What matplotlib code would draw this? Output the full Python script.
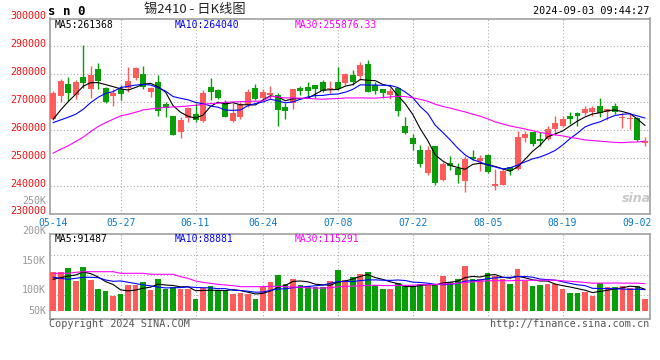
import numpy as np
import pandas as pd
import matplotlib
matplotlib.use("Agg")
import matplotlib.pyplot as plt
import matplotlib.transforms as mtransforms

# x axis dates shown under the candles (index of the trading day)
tick_pos = [0, 9, 19, 28, 38, 48, 58, 68, 78]
tick_labels = ["05-14", "05-27", "06-11", "06-24", "07-08", "07-22", "08-05", "08-19", "09-02"]

opens = [263930, 272380, 276550, 272620, 279170, 274760, 281790, 275000, 272380, 274640,
         275000, 278810, 280000, 273810, 277140, 269290, 265120, 259520, 264290, 265830,
         263450, 275600, 274400, 270000, 263450, 264640, 269050, 275000, 271670, 272740,
         272620, 268450, 269640, 275120, 275360, 276190, 277140, 274880, 277140, 277020,
         279760, 279520, 283690, 276190, 274760, 272740, 275000, 261550, 257380, 252980,
         244640, 254400, 242020, 248210, 246430, 241670, 250360, 248810, 251190, 240120,
         240480, 246790, 246070, 257380, 259520, 256790, 256900, 260480, 261670, 265120,
         266310, 266310, 266670, 268690, 266430, 268690, 264290, 263930, 264520, 255600]
highs = [274050, 278330, 278930, 277980, 290500, 282980, 283930, 275600, 274760, 276190,
         282500, 282740, 282980, 275600, 279760, 270000, 265120, 264880, 268450, 269640,
         274400, 278570, 274640, 270830, 269640, 270240, 274640, 276430, 274640, 275830,
         273210, 269640, 274640, 275950, 277380, 276190, 277980, 277620, 282500, 280360,
         281550, 284520, 285000, 277380, 274760, 275240, 275000, 264640, 258690, 254760,
         254400, 254400, 248450, 250830, 248210, 250600, 252980, 250950, 251430, 246190,
         246070, 246790, 259880, 259880, 259520, 259520, 261550, 265120, 265120, 266430,
         266670, 268690, 268810, 271430, 267620, 269880, 266070, 266070, 264880, 257500]
lows = [263700, 270000, 270360, 271190, 275000, 271430, 274760, 269640, 268810, 270830,
        273810, 277980, 274640, 272020, 265240, 264640, 258330, 257380, 262860, 263100,
        263100, 270830, 271070, 264640, 263100, 264050, 268450, 270830, 271190, 271070,
        261670, 264050, 267620, 272620, 272020, 271430, 273810, 273210, 274400, 276190,
        276190, 277980, 273810, 272860, 271670, 271070, 265240, 258690, 252740, 246790,
        244050, 240480, 241670, 245830, 241070, 237860, 249400, 245240, 244640, 238690,
        240480, 244050, 245830, 255710, 254170, 254170, 256550, 258330, 261310, 262260,
        261550, 265480, 265240, 264640, 263690, 265830, 260950, 260360, 256190, 254520]
closes = [273450, 277740, 273450, 277140, 277020, 279760, 277740, 270000, 273450, 273100,
          277620, 282380, 275600, 275240, 267020, 267860, 258330, 263690, 268100, 263690,
          273210, 273810, 271430, 264880, 266070, 269290, 273810, 271190, 273810, 273450,
          267260, 267020, 274640, 274170, 274170, 274640, 274170, 275240, 274760, 280120,
          277380, 283330, 273810, 274050, 273450, 274050, 266900, 258930, 255000, 247860,
          252980, 241070, 247980, 247260, 244050, 249760, 249760, 250000, 244880, 240830,
          245480, 245480, 257500, 258690, 255120, 256310, 260360, 262740, 264050, 264050,
          265240, 267620, 268100, 266310, 267620, 266670, 264640, 264520, 256550, 256310]
volumes = [163800, 163800, 180600, 126000, 184800, 130200, 92400, 84000, 64300, 72700,
           109200, 109200, 121800, 88200, 134400, 92400, 99100, 92400, 92400, 50400,
           96600, 105000, 88200, 88200, 71400, 75600, 71400, 50400, 100800, 121800,
           151200, 113400, 134400, 109200, 105000, 100800, 100800, 126000, 172200, 130200,
           142800, 155400, 163800, 109200, 92400, 92400, 117600, 105000, 105000, 113400,
           113400, 109200, 147000, 121800, 134400, 189000, 134400, 134400, 159600, 147000,
           134400, 113400, 176400, 126000, 105000, 109200, 113400, 113400, 92400, 75600,
           75600, 79800, 63000, 117600, 100800, 100800, 105000, 96600, 105000, 50400]

# moving averages on the first days depend on history before 05-14
ma5_start = [263930, 267260, 270240, 272860]
ma10_start = [262740, 263690, 264640, 265710, 267500, 269880, 271790, 273210, 273810]
ma30_start = [251790, 253210, 254400, 255950, 257500, 259520, 261310, 262740, 263930, 265120,
              265710, 266430, 267260, 267620, 267860, 268210, 268330, 268450, 268690, 268930,
              269290, 269520, 269640, 270000, 270120, 270240, 270360, 270360, 270480]
vma5_start = [133100, 140000, 147000, 151200]
vma10_start = [141500, 137300, 133100, 137300, 141500, 141500, 140000, 130200, 124700]
vma30_start = [158300, 158300, 158300, 162500, 165100, 165100, 165100, 165100, 165100, 158300,
               158300, 158300, 158300, 154100, 154100, 154100, 154100, 144200, 137200, 126000,
               120400, 116200, 112000, 109200, 106400, 102200, 102200, 102200, 102200]

price_ticks = list(range(230000, 300001, 10000))
vol_labels = ["250K", "200K", "150K", "100K", "50K"]


def moving(values, n, start):
    s = pd.Series(values, dtype=float).rolling(n).mean()
    s.iloc[:len(start)] = start
    return s.to_numpy()


UP, DOWN = "#ff5b5b", "#079e07"
GRID = "#aaaaaa"
BORDER = "#a0a0a0"
MONO = "DejaVu Sans Mono"
W, H = 660, 360

fig = plt.figure(figsize=(W / 100, H / 100), dpi=100)
ax = fig.add_axes([50 / W, 1 - 214 / H, 600 / W, (214 - 18.5) / H])
axv = fig.add_axes([50 / W, 1 - 318.5 / H, 600 / W, (318.5 - 233.5) / H])

x = np.arange(len(closes))
o, c = np.array(opens), np.array(closes)
colors = np.where(c >= o, UP, DOWN)

# candles
ax.vlines(x, lows, highs, colors=colors, lw=1, zorder=3)
ax.bar(x, np.maximum(np.abs(c - o), 360), bottom=np.minimum(o, c), width=0.8,
       color=colors, linewidth=0, zorder=3)
ax.plot(x, moving(closes, 5, ma5_start), color="black", lw=0.8, zorder=4)
ax.plot(x, moving(closes, 10, ma10_start), color="#0000ff", lw=0.8, zorder=4)
ax.plot(x, moving(closes, 30, ma30_start), color="#ff00ff", lw=0.8, zorder=4)

# volume
axv.bar(x, volumes, width=0.76, color=colors, linewidth=0, zorder=3)
axv.plot(x, moving(volumes, 5, vma5_start), color="black", lw=0.8, zorder=4)
axv.plot(x, moving(volumes, 10, vma10_start), color="#0000ff", lw=0.8, zorder=4)
axv.plot(x, moving(volumes, 30, vma30_start), color="#ff00ff", lw=0.8, zorder=4)

for a in (ax, axv):
    a.set_xlim(-0.43, 79.68)
    for sp in a.spines.values():
        sp.set_color(BORDER)
        sp.set_linewidth(1.2)
    for t in tick_pos[1:-1]:
        a.axvline(t, color=GRID, lw=0.8, ls=(0, (1, 2)), zorder=1)
    a.tick_params(length=0)

ax.set_ylim(price_ticks[0], price_ticks[-1])
ax.set_yticks(price_ticks)
ax.tick_params(axis="y", labelleft=False)
ax.grid(axis="y", color=GRID, lw=0.8, ls=(0, (1, 2)), zorder=1)
ax.set_xticks(tick_pos, tick_labels)
ax.tick_params(axis="x", pad=3, labelsize=7, labelcolor="#0a78cc")
for lab in ax.get_xticklabels():
    lab.set_family(MONO)

lift = mtransforms.offset_copy(ax.get_yaxis_transform(), fig=fig, y=2.5, units="dots")
for v in price_ticks:
    ax.text(-0.006, v, str(v), transform=lift, ha="right", va="center",
            color="#ee1111", fontsize=7.2, family=MONO)

axv.set_ylim(-31500, 325500)
axv.set_yticks([67200, 151200, 235200])
axv.tick_params(axis="y", labelleft=False)
axv.grid(axis="y", color=GRID, lw=0.8, ls=(0, (1, 2)), zorder=1)
axv.set_xticks([])


def ftext(px_x, px_y, s, **kw):
    fig.text(px_x / W, 1 - px_y / H, s, **kw)


for lab, py in zip(vol_labels, [200.7, 230.7, 260.7, 290, 310.7]):
    ftext(46, py, lab, ha="right", va="center", color="#999999", fontsize=7.2, family=MONO)

# legends
for s, px_x, col in [("MA5:261368", 55, "black"), ("MA10:264040", 175, "#0000ff"),
                     ("MA30:255876.33", 295, "#ff00ff")]:
    ftext(px_x, 24.5, s, ha="left", va="center", color=col, fontsize=7, family=MONO)
for s, px_x, col in [("MA5:91487", 55, "black"), ("MA10:88881", 175, "#0000ff"),
                     ("MA30:115291", 295, "#ff00ff")]:
    ftext(px_x, 238.5, s, ha="left", va="center", color=col, fontsize=7, family=MONO)

# header and footer
ftext(48, 11.5, "s n 0", ha="left", va="center", fontsize=9, weight="bold", family=MONO)
ftext(195, 9.5, "锡2410 - 日K线图", ha="center", va="center", fontsize=9.5,
      family=["Noto Sans CJK SC", "DejaVu Sans"], color="#222222")
ftext(649, 11.5, "2024-09-03 09:44:27", ha="right", va="center", fontsize=7.3, family=MONO)
ftext(49, 324, "Copyright 2024 SINA.COM", ha="left", va="center", fontsize=7.3,
      family=MONO, color="#555555")
ftext(649, 324, "http://finance.sina.com.cn", ha="right", va="center", fontsize=7.3,
      family=MONO, color="#555555")
ftext(636, 199, "sina", ha="center", va="center", fontsize=9, style="italic",
      weight="bold", color="#c8c8c8")

fig.savefig("out.png", dpi=100, facecolor="white")
